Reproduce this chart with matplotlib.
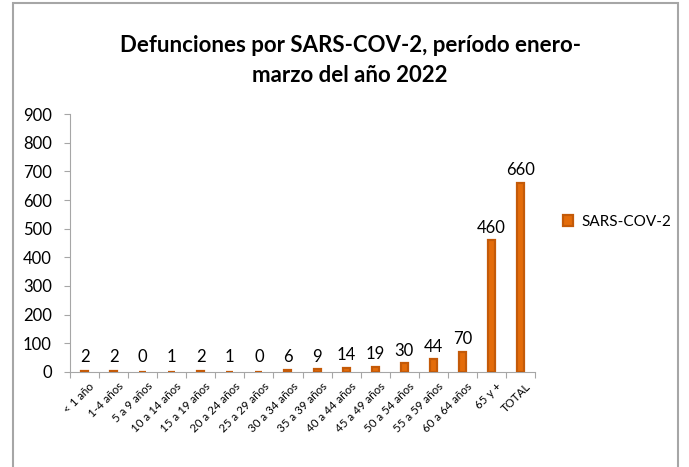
import matplotlib.pyplot as plt
from matplotlib.patches import Rectangle

categories = ['< 1 año', '1-4 años', '5 a 9 años', '10 a 14 años', '15 a 19 años',
              '20 a 24 años', '25 a 29 años', '30 a 34 años', '35 a 39 años',
              '40 a 44 años', '45 a 49 años', '50 a 54 años', '55 a 59 años',
              '60 a 64 años', '65 y +', 'TOTAL']
deaths = [2, 2, 0, 1, 2, 1, 0, 6, 9, 14, 19, 30, 44, 70, 460, 660]
series_name = 'SARS-COV-2'
yticks = [0, 100, 200, 300, 400, 500, 600, 700, 800, 900]

plt.rcParams['font.family'] = ['Lato', 'DejaVu Sans']

fig = plt.figure(figsize=(6.89, 4.67), dpi=100)
# outer chart border
fig.patches.append(Rectangle((13 / 689, -0.05), 665 / 689, 1 - 3 / 467 + 0.05,
                             transform=fig.transFigure, fill=False,
                             edgecolor='#A6A6A6', lw=1.5))

ax = fig.add_axes([70 / 689, 1 - 372 / 467, 465 / 689, 258 / 467])

x = list(range(len(categories)))
ax.bar(x, deaths, width=0.24, color='#E46C0A', edgecolor='#C45A08',
       lw=1.6, label=series_name, zorder=3)
for xi, v in zip(x, deaths):
    ax.text(xi, max(v, 8) + 16, str(v), ha='center', va='bottom', fontsize=12)

ax.set_xlim(-0.3, 15.45)
ax.set_ylim(0, 900)
ax.set_yticks(yticks)
ax.tick_params(axis='y', labelsize=12, length=4, color='#A6A6A6', pad=9)

ax.set_xticks([i + 0.5 for i in range(-1, len(categories))], minor=False)
ax.set_xticklabels([''] * (len(categories) + 1))
ax.tick_params(axis='x', length=4, color='#A6A6A6', direction='out')
for xi, lab in zip(x, categories):
    ax.text(xi + 0.15, -30, lab, rotation=45, ha='right', va='top',
            rotation_mode='anchor', fontsize=8.3, transform=ax.transData)

for s in ['top', 'right']:
    ax.spines[s].set_visible(False)
ax.spines['left'].set_color('#A6A6A6')
ax.spines['bottom'].set_color('#A6A6A6')

fig.text(350 / 689, 1 - 46 / 467, 'Defunciones por SARS-COV-2, período enero-',
         ha='center', va='center', fontsize=16, fontweight='bold')
fig.text(350 / 689, 1 - 75 / 467, 'marzo del año 2022',
         ha='center', va='center', fontsize=16, fontweight='bold')

fig.legend(loc='center left', bbox_to_anchor=(549 / 689, 1 - 222 / 467),
           frameon=False, fontsize=11, handlelength=0.7, handleheight=0.7,
           handletextpad=0.5)

fig.savefig('out.png', dpi=100)
